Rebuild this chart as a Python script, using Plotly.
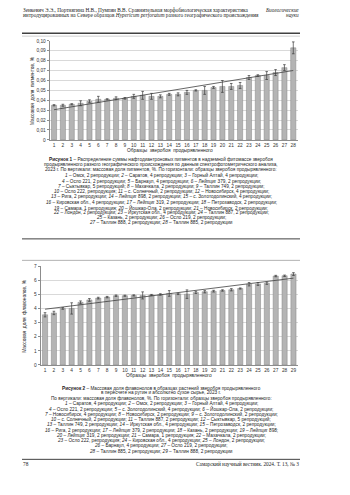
import numpy as np
import plotly.graph_objects as go

W, H = 350, 495

# ---- Figure 1: naphthodianthrone pigments, mass fraction, %
samples_1 = list(range(1, 29))
pigments = [0.035, 0.035, 0.036, 0.037, 0.039, 0.041, 0.041, 0.042, 0.042, 0.044,
            0.045, 0.044, 0.044, 0.046, 0.046, 0.048, 0.050, 0.050, 0.053, 0.054,
            0.054, 0.055, 0.063, 0.065, 0.065, 0.068, 0.073, 0.093]
pigments_err = [0.0006, 0.001, 0.0006, 0.0025, 0.0015, 0.003, 0.0006, 0.0015, 0.0008, 0.002,
                0.004, 0.003, 0.0015, 0.001, 0.0015, 0.002, 0.0006, 0.004, 0.001, 0.006,
                0.003, 0.003, 0.002, 0.0008, 0.004, 0.003, 0.003, 0.006]
pigment_ticks = [0, 0.01, 0.02, 0.03, 0.04, 0.05, 0.06, 0.07, 0.08, 0.09, 0.10]
pigment_ticktext = ["0", "0,01", "0,02", "0,03", "0,04", "0,05", "0,06", "0,07", "0,08", "0,09", "0,10"]

# ---- Figure 2: flavonols, mass fraction, %
samples_2 = list(range(1, 30))
flavonols = [3.55, 3.68, 4.00, 4.00, 4.43, 4.60, 4.73, 4.80, 4.90, 4.90,
             4.92, 4.92, 4.95, 4.99, 5.06, 5.03, 5.01, 5.13, 5.18, 5.22,
             5.27, 5.32, 5.41, 5.71, 5.73, 5.78, 6.29, 6.31, 6.43]
flavonols_err = [0.15, 0.12, 0.06, 0.40, 0.10, 0.10, 0.06, 0.05, 0.05, 0.04,
                 0.04, 0.25, 0.04, 0.05, 0.20, 0.05, 0.30, 0.08, 0.08, 0.06,
                 0.05, 0.08, 0.04, 0.12, 0.10, 0.08, 0.05, 0.05, 0.10]
flav_ticks = [0, 1, 2, 3, 4, 5, 6, 7]

BAR_FILL = "#b4b4b4"
BAR_EDGE = "#858585"
GRID = "#d9d9d9"
AXIS = "#8c8c8c"
SANS = "Liberation Sans"
SERIF = "Liberation Serif"


def px(x):
    return x / W


def py(y):
    return 1 - y / H


def trend(xs, ys):
    k, b = np.polyfit(xs, ys, 1)
    return [xs[0], xs[-1]], [k * xs[0] + b, k * xs[-1] + b]


fig = go.Figure()

for xs, ys, err, xa, ya in [
    (samples_1, pigments, pigments_err, "x", "y"),
    (samples_2, flavonols, flavonols_err, "x2", "y2"),
]:
    fig.add_trace(go.Bar(
        x=xs, y=ys, xaxis=xa, yaxis=ya, width=0.58,
        marker=dict(color=BAR_FILL, line=dict(color=BAR_EDGE, width=0.5)),
        error_y=dict(type="data", array=err, color="#3a3a3a", thickness=0.7, width=1.3),
    ))
    tx, ty = trend(xs, ys)
    fig.add_trace(go.Scatter(
        x=tx, y=ty, xaxis=xa, yaxis=ya, mode="lines",
        line=dict(color="#404040", width=0.8), hoverinfo="skip",
    ))

tick_font = dict(family=SANS, size=4.8, color="#333333")

fig.update_layout(
    width=W, height=H,
    margin=dict(l=0, r=0, t=0, b=0),
    paper_bgcolor="white", plot_bgcolor="white",
    showlegend=False,
    separators=", ",
    xaxis=dict(
        domain=[px(49.6), px(297.7)], range=[0.5, 28.5], anchor="y",
        tickvals=samples_1, tickfont=tick_font, showgrid=False,
        showline=True, linecolor=AXIS, linewidth=0.7, ticks="", zeroline=False,
    ),
    yaxis=dict(
        domain=[py(139.3), py(39.3)], range=[0, 0.10], anchor="x",
        tickvals=pigment_ticks, ticktext=pigment_ticktext, tickfont=tick_font,
        showgrid=True, gridcolor=GRID, gridwidth=0.6,
        showline=True, linecolor=AXIS, linewidth=0.7,
        ticks="outside", ticklen=2, tickcolor=AXIS, tickwidth=0.6, zeroline=False,
    ),
    xaxis2=dict(
        domain=[px(40.6), px(297.9)], range=[0.5, 29.5], anchor="y2",
        tickvals=samples_2, tickfont=tick_font, showgrid=False,
        showline=True, linecolor=AXIS, linewidth=0.7, ticks="", zeroline=False,
    ),
    yaxis2=dict(
        domain=[py(366.7), py(266.7)], range=[0, 7], anchor="x2",
        tickvals=flav_ticks, tickfont=tick_font,
        showgrid=True, gridcolor=GRID, gridwidth=0.6,
        showline=True, linecolor=AXIS, linewidth=0.7,
        ticks="outside", ticklen=2, tickcolor=AXIS, tickwidth=0.6, zeroline=False,
    ),
)

# ---- page rules
shapes = []


def hline(y, color, width, x0=22, x1=300):
    shapes.append(dict(type="line", xref="paper", yref="paper",
                       x0=px(x0), x1=px(x1), y0=py(y), y1=py(y),
                       line=dict(color=color, width=width)))


hline(31.5, "#404040", 1.4)
hline(34.5, "#b0b0b0", 0.6)
hline(239.3, "#404040", 1.0)
hline(261.0, "#a0a0a0", 0.8)
hline(462.0, "#404040", 1.0)
fig.update_layout(shapes=shapes)

# ---- texts
ann = []


def text(x, y, s, size=5.0, family=SANS, anchor="center", color="#222222", angle=0):
    ann.append(dict(xref="paper", yref="paper", x=px(x), y=py(y), text=s,
                    showarrow=False, xanchor=anchor, yanchor="middle",
                    textangle=angle, borderpad=0,
                    font=dict(family=family, size=size, color=color)))


# running head
text(22, 8.5, "Зенкевич Э.Э., Портнягина Н.В., Пумпян В.В. Сравнительная морфобиологическая характеристика",
     size=5.3, family=SERIF, anchor="left")
text(22, 13.5, "интродуцированных на Севере образцов <i>Hypericum perforatum</i> разного географического происхождения",
     size=5.3, family=SERIF, anchor="left")
text(300, 8.5, "<i>Биологические</i>", size=5.3, family=SERIF, anchor="right")
text(300, 13.5, "<i>науки</i>", size=5.3, family=SERIF, anchor="right")

# axis titles
text(32, 90, "Массовая  доля  пигментов, %", size=4.8, angle=-90)
text(170, 150, "Образцы  зверобоя  продырявленного", size=4.8)
text(25, 317, "Массовая  доля  флавонолов, %", size=4.8, angle=-90)
text(169, 377.7, "Образцы  зверобоя  продырявленного", size=4.8)

caption_1 = [
    "<b>Рисунок 1</b> – Распределение суммы нафтодиантроновых пигментов в надземной фитомассе зверобоя",
    "продырявленного разного географического происхождения по данным спектрофотометрического анализа,",
    "2023 г. По вертикали: массовая доля пигментов, %. По горизонтали: образцы зверобоя продырявленного:",
    "<i>1</i> – Омск, 2 репродукции; <i>2</i> – Саратов, 4 репродукции; <i>3</i> – Горный Алтай, 4 репродукции;",
    "<i>4</i> – Осло 221, 2 репродукции; <i>5</i> – Барнаул, 4 репродукции; <i>6</i> – Лейпциг 379, 2 репродукции;",
    "<i>7</i> – Сыктывкар, 5 репродукций; <i>8</i> – Махачкала, 2 репродукции; <i>9</i> – Таллин 749, 2 репродукции;",
    "<i>10</i> – Осло 222, репродукция; <i>11</i> – с. Солнечный, 2 репродукции; <i>12</i> – Новосибирск, 4 репродукции;",
    "<i>13</i> – Рига, 2 репродукции; <i>14</i> – Лейпциг 898, 2 репродукции; <i>15</i> – с. Золотодолинский, 4 репродукции;",
    "<i>16</i> – Кировская обл., 4 репродукции; <i>17</i> – Лейпциг 319, 2 репродукции; <i>18</i> – Петрозаводск, 2 репродукции;",
    "<i>19</i> – Самара, 1 репродукция; <i>20</i> – Йошкар-Ола, 2 репродукции; <i>21</i> – Новосибирск, 2 репродукции;",
    "<i>22</i> – Лондон, 2 репродукции; <i>23</i> – Иркутская обл., 4 репродукции; <i>24</i> – Таллин 887, 2 репродукции;",
    "<i>25</i> – Казань, 2 репродукции; <i>26</i> – Осло 219, 2 репродукции;",
    "<i>27</i> – Таллин 888, 2 репродукции; <i>28</i> – Таллин 885, 2 репродукции",
]

caption_2 = [
    "<b>Рисунок 2</b> – Массовая доля флавонолов в образцах растений зверобоя продырявленного",
    "в пересчете на рутин и абсолютно сухое сырье, 2023 г.",
    "По вертикали: массовая доля флавонолов, %. По горизонтали: образцы зверобоя продырявленного:",
    "<i>1</i> – Саратов, 4 репродукции; <i>2</i> – Омск, 2 репродукции; <i>3</i> – Горный Алтай, 4 репродукции;",
    "<i>4</i> – Осло 221, 2 репродукции; <i>5</i> – с. Золотодолинский, 4 репродукции; <i>6</i> – Йошкар-Ола, 2 репродукции;",
    "<i>7</i> – Новосибирск, 4 репродукции; <i>8</i> – Новосибирск, 2 репродукции; <i>9</i> – с. Золотодолинский, 2 репродукции;",
    "<i>10</i> – с. Солнечный, 2 репродукции; <i>11</i> – Таллин 887, 2 репродукции; <i>12</i> – Сыктывкар, 5 репродукций;",
    "<i>13</i> – Таллин 749, 2 репродукции; <i>14</i> – Иркутская обл., 4 репродукции; <i>15</i> – Петрозаводск, 2 репродукции;",
    "<i>16</i> – Рига, 2 репродукции; <i>17</i> – Лейпциг 379, 2 репродукции; <i>18</i> – Казань, 2 репродукции; <i>19</i> – Лейпциг 898;",
    "<i>20</i> – Лейпциг 319, 2 репродукции; <i>21</i> – Самара, 1 репродукция; <i>22</i> – Махачкала, 2 репродукции;",
    "<i>23</i> – Осло 222, репродукция; <i>24</i> – Кировская обл., 4 репродукции; <i>25</i> – Лондон, 2 репродукции;",
    "<i>26</i> – Барнаул, 4 репродукции; <i>27</i> – Осло 219, 2 репродукции;",
    "<i>28</i> – Таллин 885, 2 репродукции; <i>29</i> – Таллин 888, 2 репродукции",
]

LINE_STEP = 5.35
for i, line in enumerate(caption_1):
    text(161, 159.0 + i * LINE_STEP, line, size=4.7)
for i, line in enumerate(caption_2):
    text(161, 389.5 + i * LINE_STEP, line, size=4.7)

# footer
text(22, 467, "78", size=5.3, family=SERIF, anchor="left")
text(300, 467, "Самарский научный вестник. 2024. Т. 13, № 3", size=5.3, family=SERIF, anchor="right")

fig.update_layout(annotations=ann)

fig.write_html("out.html")
